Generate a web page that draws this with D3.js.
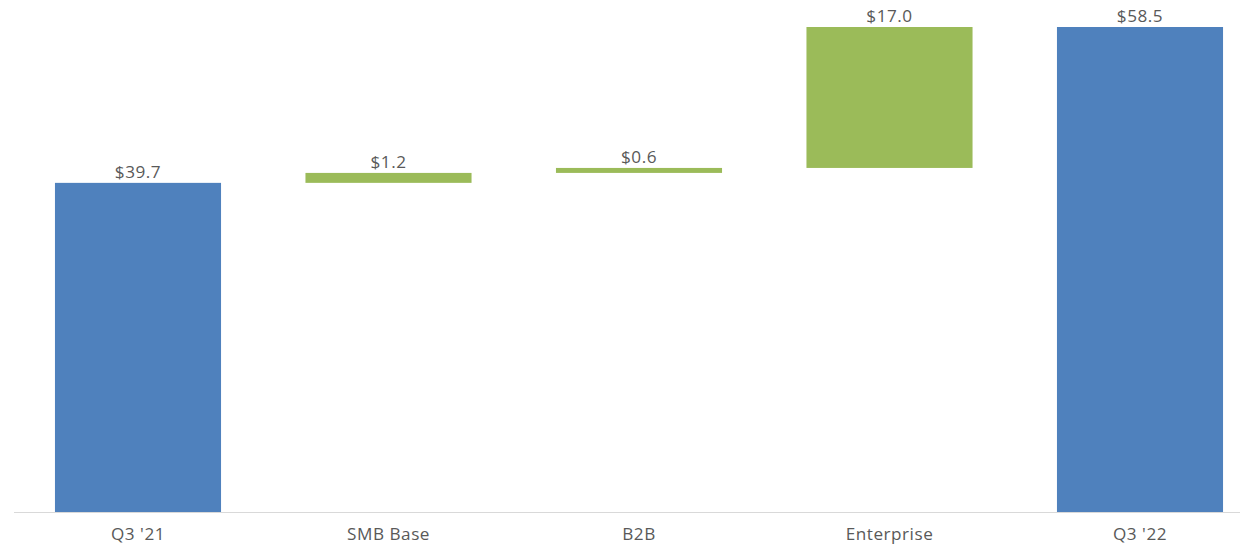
<!DOCTYPE html>
<html>
<head>
<meta charset="utf-8">
<script src="https://cdn.jsdelivr.net/npm/d3@7"></script>
<style>
  html, body { margin: 0; padding: 0; background: #fff; }
  svg text { font-family: "Open Sans", "Liberation Sans", sans-serif; fill: #595959; }
</style>
</head>
<body>
<svg id="chart" width="1244" height="544"></svg>
<script>
// Revenue bridge, $M
const categories = ["Q3 '21", "SMB Base", "B2B", "Enterprise", "Q3 '22"];
const values = [39.7, 1.2, 0.6, 17.0, 58.5];
const kinds = ["total", "delta", "delta", "delta", "total"];
const labels = ["$39.7", "$1.2", "$0.6", "$17.0", "$58.5"];

const colors = { total: "#4F81BD", delta: "#9BBB59" };

// Build floating segments: totals start at zero, deltas stack on the running sum
let running = 0;
const bars = categories.map((c, i) => {
  let y0, y1;
  if (kinds[i] === "total") { y0 = 0; y1 = values[i]; running = values[i]; }
  else { y0 = running; y1 = running + values[i]; running = y1; }
  return { category: c, y0, y1, kind: kinds[i], label: labels[i] };
});

const svg = d3.select("#chart");
const baseY = 512;
const textStretch = 1.04;

const x = d3.scaleBand()
  .domain(categories)
  .range([12.75, 1265.25])
  .paddingInner(0.337)
  .paddingOuter(0.1685);

const y = d3.scaleLinear()
  .domain([0, 58.5])
  .range([baseY, 27]);

// Baseline
svg.append("line")
  .attr("x1", 14).attr("x2", 1240)
  .attr("y1", baseY + 0.5).attr("y2", baseY + 0.5)
  .attr("stroke", "#d9d9d9").attr("stroke-width", 1);

svg.append("g").selectAll("rect")
  .data(bars)
  .join("rect")
  .attr("x", d => x(d.category))
  .attr("width", x.bandwidth())
  .attr("y", d => y(d.y1))
  .attr("height", d => y(d.y0) - y(d.y1))
  .attr("fill", d => colors[d.kind]);

// Value labels above each segment
svg.append("g").selectAll("text")
  .data(bars)
  .join("text")
  .attr("transform", d => `translate(${x(d.category) + x.bandwidth() / 2},${y(d.y1) - 5}) scale(${textStretch},1)`)
  .attr("text-anchor", "middle")
  .attr("font-size", 16.5)
  .attr("letter-spacing", 0.5)
  .text(d => d.label);

// Category axis labels
const xAxis = d3.axisBottom(x).tickSize(0).tickPadding(0);
const gx = svg.append("g").attr("transform", `translate(0,${baseY})`).call(xAxis);
gx.select(".domain").remove();
gx.selectAll("text")
  .attr("y", 0)
  .attr("dy", 0)
  .attr("transform", `translate(0,28) scale(${textStretch},1)`)
  .attr("font-size", 16.5)
  .attr("letter-spacing", 0.5)
  .style("font-family", "\"Open Sans\", \"Liberation Sans\", sans-serif")
  .attr("fill", "#595959");
</script>
</body>
</html>
